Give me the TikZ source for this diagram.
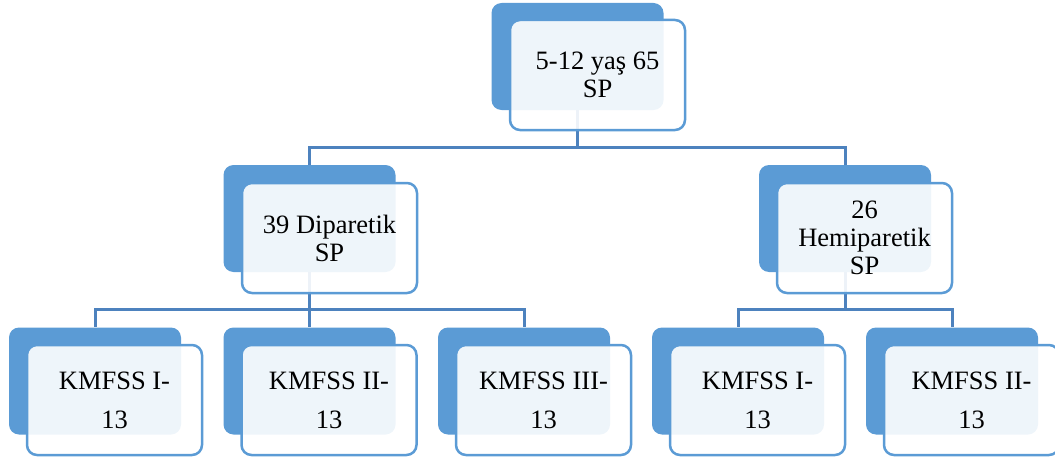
\documentclass[tikz,border=0pt]{standalone}
\usepackage{fontspec}
\setmainfont{Liberation Serif}
\definecolor{boxblue}{HTML}{5B9BD5}
\definecolor{linkblue}{HTML}{4D82BE}
\begin{document}
\begin{tikzpicture}[x=1pt, y=-1pt,
  back/.style={fill=boxblue, rounded corners=10pt, minimum width=172pt, minimum height=107pt, inner sep=0pt},
  front/.style={draw=boxblue, line width=2.5pt, fill=white, fill opacity=0.9, text opacity=1,
    rounded corners=10pt, minimum width=175pt, minimum height=110pt, inner sep=0pt, align=center,
    font=\fontsize{26.5}{28}\selectfont},
  leaf/.style={front, font=\fontsize{26.5}{39}\selectfont},
  link/.style={draw=linkblue, line width=3pt}]
\useasboundingbox (0,0) rectangle (1055,460);

% back boxes
\node[back] (top) at (577.5,56.5) {};
\node[back] (dip) at (309.5,218.5) {};
\node[back] (hem) at (845,218.5) {};
\node[back] (k1) at (95,381) {};
\node[back] (k2) at (309.5,381) {};
\node[back] (k3) at (524,381) {};
\node[back] (k4) at (738,381) {};
\node[back] (k5) at (952,381) {};

% connectors
\draw[link] (top.south) -- ++(0,37) -| (dip.north);
\draw[link] (top.south) -- ++(0,37) -| (hem.north);
\draw[link] (dip.south) -- ++(0,37) -| (k1.north);
\draw[link] (dip.south) -- (k2.north);
\draw[link] (dip.south) -- ++(0,37) -| (k3.north);
\draw[link] (hem.south) -- ++(0,37) -| (k4.north);
\draw[link] (hem.south) -- ++(0,37) -| (k5.north);

% front boxes
\node[front] (topf) at (597.5,75) {5-12 yaş 65\\SP};
\node[front] (dipf) at (329.5,238) {39 Diparetik\\SP};
\node[front] (hemf) at (864.5,238) {26\\Hemiparetik\\SP};
\node[leaf] (k1f) at (114.5,400) {KMFSS I-\\13};
\node[leaf] (k2f) at (329,400) {KMFSS II-\\13};
\node[leaf] (k3f) at (543.5,400) {KMFSS III-\\13};
\node[leaf] (k4f) at (757.5,400) {KMFSS I-\\13};
\node[leaf] (k5f) at (971.5,400) {KMFSS II-\\13};
\end{tikzpicture}
\end{document}
